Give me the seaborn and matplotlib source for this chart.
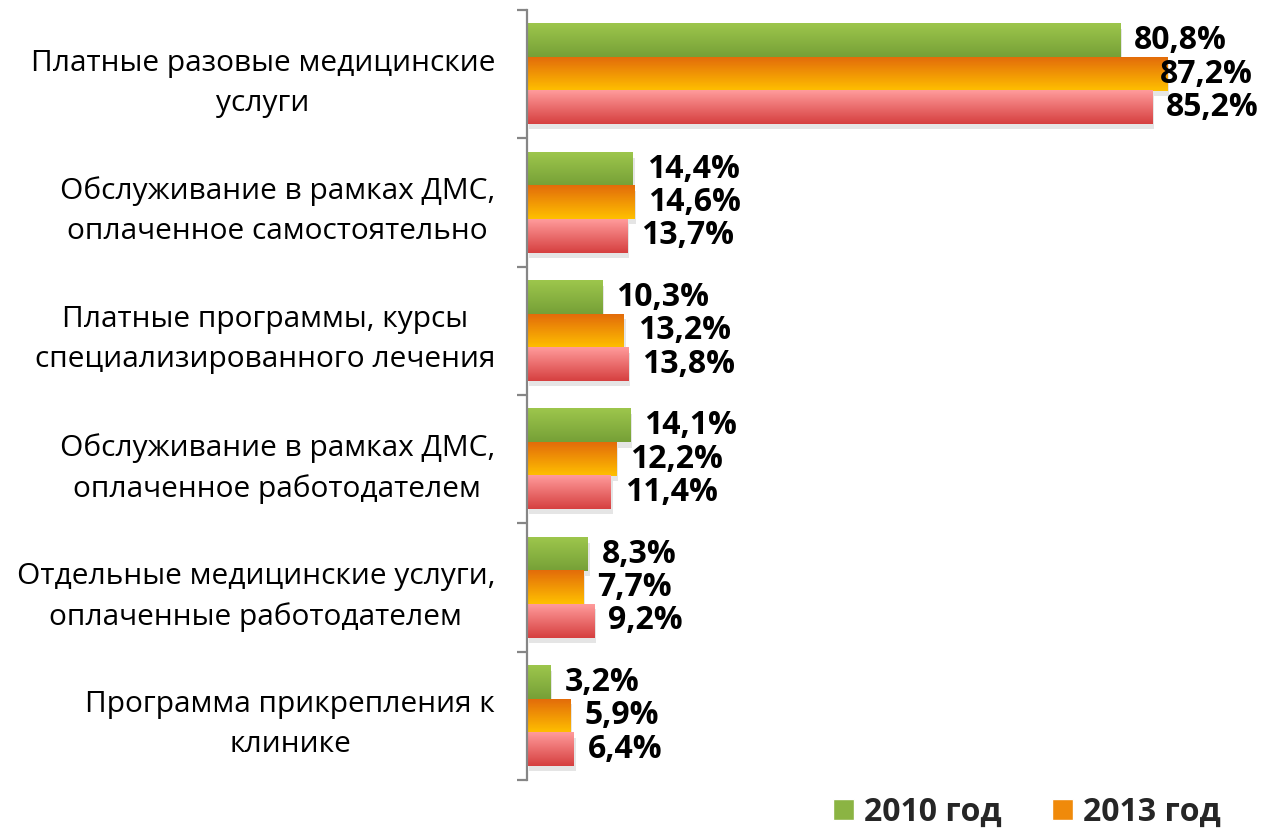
import numpy as np
import pandas as pd
import matplotlib
matplotlib.use("Agg")
import matplotlib.pyplot as plt
import seaborn as sns
from matplotlib.colors import LinearSegmentedColormap
from matplotlib.patches import Rectangle

# Data
categories = [
    "Платные разовые медицинские\nуслуги",
    "Обслуживание в рамках ДМС,\nоплаченное самостоятельно",
    "Платные программы, курсы\nспециализированного лечения",
    "Обслуживание в рамках ДМС,\nоплаченное работодателем",
    "Отдельные медицинские услуги,\nоплаченные работодателем",
    "Программа прикрепления к\nклинике",
]
series = ["2010 год", "2013 год", "третий год"]
values_2010 = [80.8, 14.4, 10.3, 14.1, 8.3, 3.2]
values_2013 = [87.2, 14.6, 13.2, 12.2, 7.7, 5.9]
values_3 = [85.2, 13.7, 13.8, 11.4, 9.2, 6.4]

df = pd.DataFrame({
    "cat": categories * 3,
    "year": [s for s in series for _ in categories],
    "val": values_2010 + values_2013 + values_3,
})

# gradient colours (top, bottom) per series
grad = {
    0: ("#9dc64c", "#76a037"),
    1: ("#e36c0a", "#ffc000"),
    2: ("#ff9b9b", "#d64040"),
}
mid = ["#8bb443", "#f08a0a", "#ea6e6e"]

sns.set_style("white")
plt.rcParams["font.family"] = ["Open Sans", "DejaVu Sans"]

fig = plt.figure(figsize=(12.61, 8.31), dpi=100)
ax = fig.add_axes([527 / 1261, 1 - 780 / 831, 1 - 527 / 1261, 770 / 831])

sns.barplot(data=df, y="cat", x="val", hue="year", orient="h",
            palette=mid, width=0.78, gap=0, legend=False, ax=ax,
            saturation=1, edgecolor="none")

ax.set_xlim(0, 100)
ax.set_ylim(5.5, -0.5)

# gradient fill + soft shadow for each bar
for i, cont in enumerate(ax.containers):
    cmap = LinearSegmentedColormap.from_list(f"g{i}", grad[i])
    for p in cont.patches:
        x0, y0, w, h = p.get_x(), p.get_y(), p.get_width(), p.get_height()
        sh = Rectangle((x0 + 0.25, y0 + 0.04), w, h, facecolor="#000000",
                       alpha=0.10, edgecolor="none", zorder=1)
        ax.add_patch(sh)
        g = np.linspace(0, 1, 64).reshape(-1, 1)
        ax.imshow(g, cmap=cmap, aspect="auto", extent=(x0, x0 + w, y0 + h, y0),
                  origin="upper", zorder=2, interpolation="bilinear")
        p.set_visible(False)

ax.set_xlim(0, 100)
ax.set_ylim(5.5, -0.5)

# value labels
for i, cont in enumerate(ax.containers):
    vals = [values_2010, values_2013, values_3][i]
    texts = ax.bar_label(cont, labels=[f"{v:.1f}%".replace(".", ",") for v in vals],
                         padding=10, fontsize=23, fontweight="bold", color="black", zorder=5)
    for v, t in zip(vals, texts):
        if v > 86:  # label pulled back onto the bar so it fits, as in the source
            t.xyann = (-5, 0)

# axis styling
for s in ["top", "right", "bottom"]:
    ax.spines[s].set_visible(False)
ax.spines["left"].set_color("#868686")
ax.spines["left"].set_linewidth(1.6)
ax.set_xticks([])
ax.set_xlabel("")
ax.set_ylabel("")
ax.tick_params(axis="y", which="major", length=0, pad=23, labelsize=21.5, labelcolor="black")
ax.set_yticks(np.arange(-0.5, 6, 1), minor=True)
ax.tick_params(axis="y", which="minor", left=True, length=7, width=1.6, color="#868686")
for t in ax.get_yticklabels():
    t.set_multialignment("center")
    t.set_linespacing(1.5)

# legend: only first two entries visible in the reference
handles = [Rectangle((0, 0), 1, 1, facecolor=mid[0]),
           Rectangle((0, 0), 1, 1, facecolor=mid[1])]
fig.legend(handles, series[:2], loc="center", bbox_to_anchor=(1027 / 1261, 1 - 812 / 831),
           ncol=2, frameon=False, prop={"size": 23, "weight": "bold"},
           handlelength=0.65, handleheight=0.65, handletextpad=0.3, columnspacing=1.6)

fig.savefig("out.png", dpi=100)
